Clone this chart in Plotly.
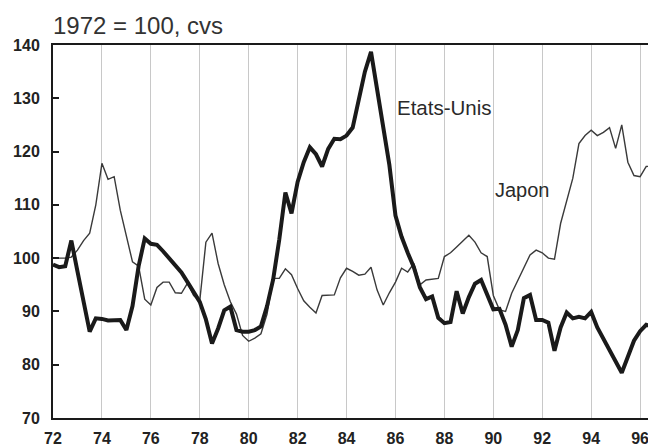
import plotly.graph_objects as go

quarters = [72 + 0.25 * k for k in range(100)]

etats_unis = [
    98.8, 98.3, 98.5, 103.3,
    97.5, 91.5, 86.2, 88.7,
    88.6, 88.3, 88.3, 88.4,
    86.5, 91.0, 98.5, 103.7,
    102.7, 102.5, 101.3, 100.0,
    98.8, 97.3, 95.5, 93.5,
    91.8, 88.5, 84.0, 86.8,
    90.2, 90.9, 86.5, 86.2,
    86.2, 86.5, 87.2, 91.0,
    96.0, 103.5, 112.3, 108.4,
    114.3, 118.0, 120.8, 119.5,
    117.2, 120.5, 122.4, 122.3,
    123.0, 124.5, 130.0, 135.0,
    138.7, 131.5, 124.0, 117.5,
    108.0, 104.0, 101.0, 98.3,
    94.5, 92.3, 92.8, 88.8,
    87.8, 88.0, 93.8, 89.6,
    92.7, 95.2, 95.9, 93.0,
    90.4, 90.5, 87.5, 83.4,
    86.5, 92.5, 93.1, 88.4,
    88.4, 87.9, 82.6, 87.0,
    89.8, 88.7, 89.0, 88.7,
    89.9, 87.0, 84.8, 83.0,
    80.8, 78.5, 81.5, 84.5,
    86.3, 87.5, 87.2, 86.8,
]

japon = [
    100.0, 100.0, 100.0, 100.2,
    101.5, 103.3, 104.7, 110.0,
    117.8, 114.8, 115.3, 109.0,
    104.0, 99.3, 98.5, 92.3,
    91.2, 94.5, 95.5, 95.5,
    93.5, 93.4, 95.3, 93.0,
    92.0, 103.0, 104.7, 99.0,
    95.0, 91.8, 89.5, 85.5,
    84.4, 85.0, 85.8, 89.5,
    96.2, 96.2, 98.0, 96.9,
    94.3, 92.0, 90.8, 89.7,
    93.0, 93.1, 93.1, 96.3,
    98.1, 97.5, 96.8, 97.0,
    98.3, 94.0, 91.2, 93.5,
    95.5, 98.1, 97.4, 99.0,
    95.0, 95.9, 96.0, 96.2,
    100.3, 101.0, 102.1, 103.3,
    104.3, 103.0, 101.0, 100.3,
    93.0, 90.3, 90.0, 93.4,
    95.8, 98.4, 100.6, 101.5,
    101.0, 100.0, 99.8, 106.5,
    110.5, 115.0, 121.5, 123.0,
    124.0, 123.0, 123.6, 124.5,
    120.6, 125.0, 118.0, 115.5,
    115.3, 117.2, 117.3, 117.4,
]

x_ticks = list(range(72, 97, 2))
x_labels = [str(v) for v in x_ticks]
y_ticks = list(range(70, 141, 10))

FONT = "Arial, 'Liberation Sans', sans-serif"

fig = go.Figure()
fig.add_trace(go.Scatter(x=quarters, y=japon, mode="lines", name="Japon",
                         line=dict(color="#3a3a3a", width=1.4)))
fig.add_trace(go.Scatter(x=quarters, y=etats_unis, mode="lines", name="Etats-Unis",
                         line=dict(color="#1a1a1a", width=4)))

fig.add_annotation(x=86.0, y=128.3, text="Etats-Unis", showarrow=False,
                   xanchor="left", yanchor="middle",
                   font=dict(family=FONT, size=20.5, color="#2a2a2a"))
fig.add_annotation(x=90.0, y=112.8, text="Japon", showarrow=False,
                   xanchor="left", yanchor="middle",
                   font=dict(family=FONT, size=20, color="#2a2a2a"))
fig.add_annotation(xref="paper", yref="paper", x=0, y=1, yshift=20, xshift=-2,
                   text="1972 = 100, cvs", showarrow=False,
                   xanchor="left", yanchor="middle",
                   font=dict(family=FONT, size=24, color="#333333"))

fig.update_layout(
    width=648, height=440,
    margin=dict(l=45, r=0, t=37, b=30),
    paper_bgcolor="white", plot_bgcolor="white",
    showlegend=False,
    font=dict(family=FONT, color="#222222"),
    xaxis=dict(range=[72, 96.65], tickvals=x_ticks, ticktext=x_labels,
               automargin=False,
               showgrid=True, gridcolor="#c8c8c8", gridwidth=1,
               showline=True, linecolor="#1a1a1a", linewidth=2, mirror=True,
               ticks="", zeroline=False,
               tickfont=dict(family=FONT, size=16, color="#222222", weight="bold"),
               ticklabelstandoff=5),
    yaxis=dict(range=[70, 140], tickvals=y_ticks, automargin=False,
               showgrid=False, zeroline=False,
               showline=True, linecolor="#1a1a1a", linewidth=2,
               ticks="inside", ticklen=6, tickwidth=2, tickcolor="#1a1a1a",
               tickfont=dict(family=FONT, size=16, color="#222222", weight="bold"),
               ticklabelstandoff=8),
)

fig.write_html("out.html")
